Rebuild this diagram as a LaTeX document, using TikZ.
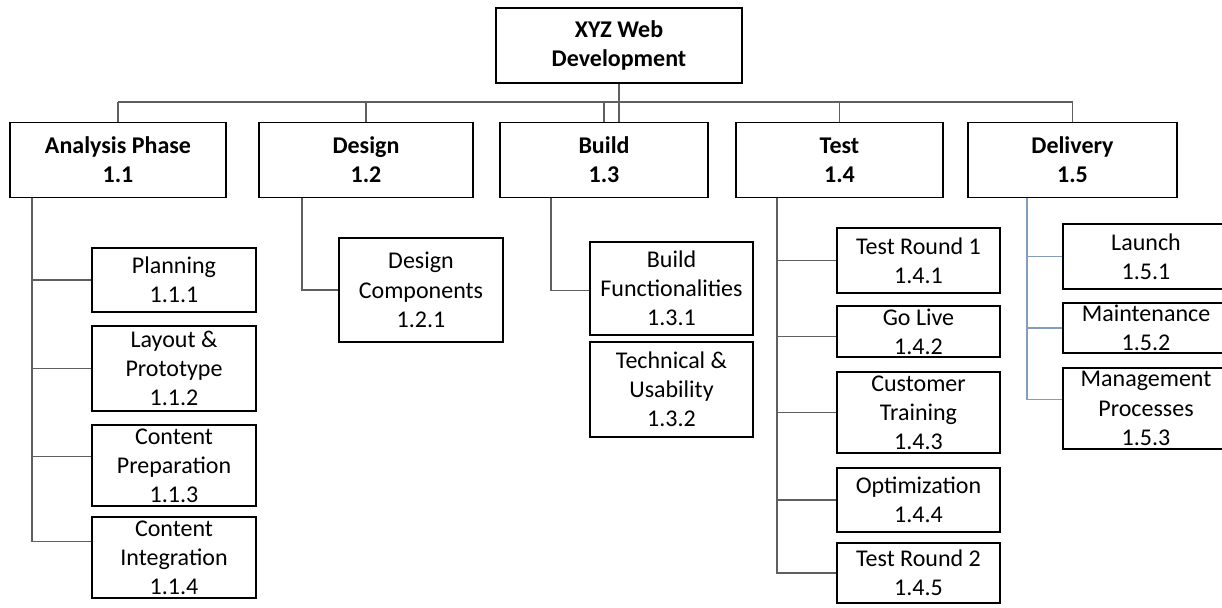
\documentclass[tikz,border=0pt]{standalone}
\usepackage{fontspec}
\setmainfont{Carlito}
\usepackage{tikz}

\definecolor{linkgray}{RGB}{95,95,95}
\definecolor{linkblue}{RGB}{132,156,192}
\def\pxu{0.5pt}
\tikzset{
	box/.style={draw, line width=0.9pt, inner sep=0pt, align=center, font=\fontsize{12}{14.6}\selectfont},
	head/.style={box, font=\fontsize{12}{14.6}\selectfont\bfseries},
	link/.style={draw=linkgray, line width=0.6pt},
}

\begin{document}
\begin{tikzpicture}[x=0.5pt, y=-0.5pt]
		\useasboundingbox (0,0) rectangle (1222,607);
		\clip (0,0) rectangle (1222,607);
		\node[head, minimum width=246*\pxu, minimum height=75*\pxu] (root) at (619,45.5) {XYZ Web\\Development};
		\coordinate (bus) at (0,102);
		\foreach \nm/\cx/\w/\tx/\ttl in {a/118/216/32/{Analysis Phase\\1.1},d/366/214/302/{Design\\1.2},b/604/208/551/{Build\\1.3},t/839.5/207/777/{Test\\1.4},v/1072.5/209/1027/{Delivery\\1.5}} {
			\node[head, minimum width=\w*\pxu, minimum height=75*\pxu] (p-\nm) at (\cx,160) {\ttl};
			\draw[link] (p-\nm.north) -- (p-\nm.north |- bus);
			\path (p-\nm.south) ++(\tx-\cx,0) coordinate (r-\nm);
		}
		\draw[link] (p-a.north |- bus) -- (p-v.north |- bus);
		\draw[link] (root.south) -- (root.south |- p-b.north);
		% 1.1
		\foreach[count=\j] \cy/\ch/\dy/\ctxt in {280/64/0/{Planning\\1.1.1},368.5/85/0/{Layout \&\\Prototype\\1.1.2},465.5/81/9/{Content\\Preparation\\1.1.3},557.5/81/16/{Content\\Integration\\1.1.4}} {
			\node[box, minimum width=164*\pxu, minimum height=\ch*\pxu] (c-a-\j) at (174,\cy) {\ctxt};
			\draw[link] ([yshift=\dy*\pxu]c-a-\j.west) -| (r-a);
		}
		% 1.2
		\node[box, minimum width=164*\pxu, minimum height=104*\pxu] (c-d-1) at (421,290) {Design\\Components\\1.2.1};
		\draw[link] (c-d-1.west) -| (r-d);
		% 1.3
		\node[box, minimum width=163*\pxu, minimum height=93*\pxu] (c-b-1) at (671.5,288.5) {Build\\Functionalities\\1.3.1};
		\node[box, minimum width=163*\pxu, minimum height=95*\pxu] (c-b-2) at (671.5,389.5) {Technical \&\\Usability\\1.3.2};
		\draw[link] ([yshift=-2*\pxu]c-b-1.west) -| (r-b);
		% 1.4
		\foreach[count=\j] \cy/\ch/\dy/\ctxt in {260.5/65/0/{Test Round 1\\1.4.1},331.5/51/-5/{Go Live\\1.4.2},412.5/81/0/{Customer\\Training\\1.4.3},500/64/0/{Optimization\\1.4.4},573/60/0/{Test Round 2\\1.4.5}} {
			\node[box, minimum width=163*\pxu, minimum height=\ch*\pxu] (c-t-\j) at (918.5,\cy) {\ctxt};
			\draw[link] ([yshift=\dy*\pxu]c-t-\j.west) -| (r-t);
		}
		% 1.5
		\foreach[count=\j] \cy/\ch/\dy/\ctxt in {256.5/65/0/{Launch\\1.5.1},328/50/0/{Maintenance\\1.5.2},408.5/81/9/{Management\\Processes\\1.5.3}} {
			\node[box, minimum width=166*\pxu, minimum height=\ch*\pxu] (c-v-\j) at (1146,\cy) {\ctxt};
			\draw[link, draw=linkblue] ([yshift=\dy*\pxu]c-v-\j.west) -| (r-v);
		}
	\end{tikzpicture}
\end{document}
